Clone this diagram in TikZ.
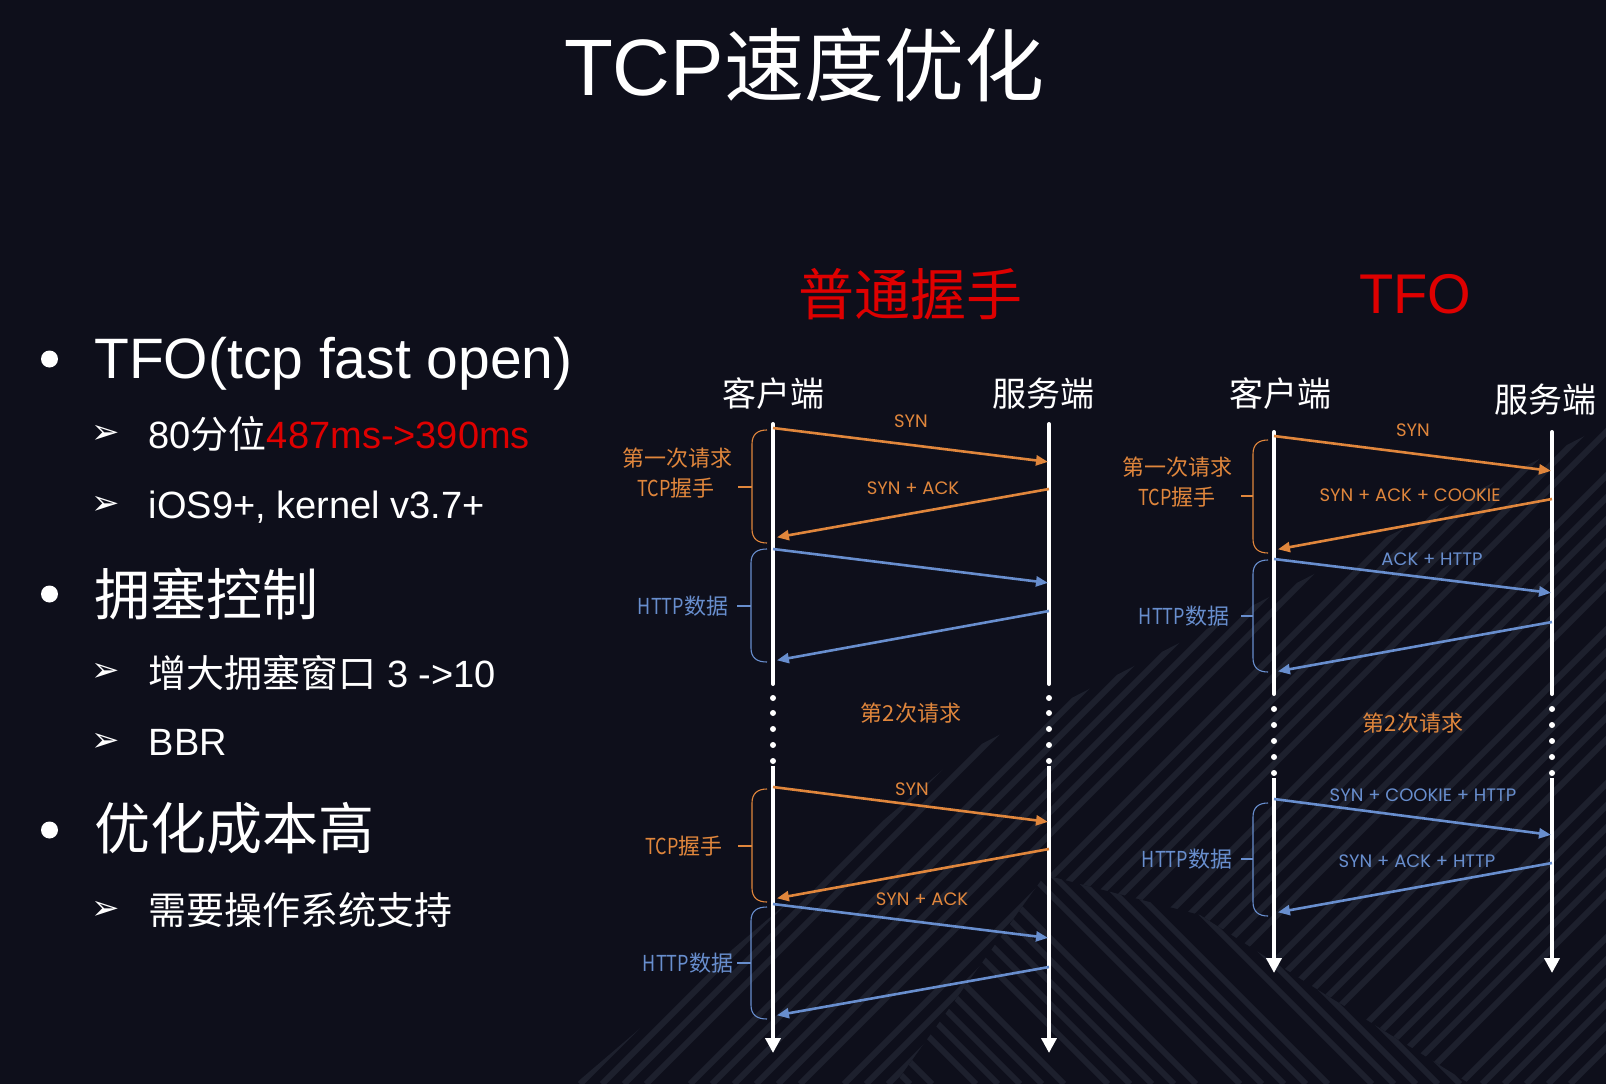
\documentclass[tikz,border=0pt]{standalone}
\usepackage{fontspec}
\setmainfont{Liberation Sans}
\newfontfamily\cjk{Noto Sans CJK SC}
\newfontfamily\cjkc[FakeStretch=0.82]{Noto Sans CJK SC}
\newfontfamily\geo{Poppins}
\newfontfamily\dv{DejaVu Sans}
\usetikzlibrary{arrows.meta}
\definecolor{bgcol}{RGB}{14,15,27}
\definecolor{stripecol}{RGB}{29,32,45}
\definecolor{org}{RGB}{224,134,60}
\definecolor{blu}{RGB}{104,142,206}
\definecolor{ttred}{RGB}{222,0,0}
\newcommand{\mybrk}[7]{%
  \draw[#1, brk] (#3,#4) .. controls (#2+6,#4) and (#2,#4+4) .. (#2,#4+14) -- (#2,#5-14) .. controls (#2,#5-4) and (#2+6,#5) .. (#3,#5);
  \draw[#1, brk] (#7,#6) -- (#2,#6);
}
\begin{document}
\begin{tikzpicture}[x=1pt,y=-1pt,
  txt/.style={inner sep=0pt, text=white},
  life/.style={white, line width=4pt, line cap=round},
  lifearr/.style={white, line width=4pt, -{Triangle[length=15pt,width=15pt]}},
  dotc/.style={circle, fill=white, inner sep=0pt, minimum size=6pt},
  omsg/.style={org, line width=2.6pt, -{Triangle[length=12pt,width=10pt]}},
  bmsg/.style={blu, line width=2.6pt, -{Triangle[length=12pt,width=10pt]}},
  fwd/.style={shorten >=1pt},
  back/.style={shorten >=4pt},
  olab/.style={inner sep=0pt, text=org, font=\geo\fontsize{18}{18}\selectfont},
  blab/.style={inner sep=0pt, text=blu, font=\geo\fontsize{18}{18}\selectfont},
  ocjk/.style={inner sep=0pt, text=org, font=\cjk\fontsize{22}{22}\selectfont},
  bcjk/.style={inner sep=0pt, text=blu, font=\cjk\fontsize{22}{22}\selectfont},
  brk/.style={line width=1.1pt},
  stripe/.style={line width=6pt, draw=stripecol},
  head/.style={inner sep=0pt, text=white, font=\cjk\fontsize{34}{34}\selectfont},
  bul/.style={circle, fill=white, inner sep=0pt, minimum size=17pt},
  sub/.style={inner sep=0pt, text=white, font=\dv\fontsize{34}{34}\selectfont}
]
\useasboundingbox (0,0) rectangle (1606,1084);
\fill[bgcol] (0,0) rectangle (1606,1084);

% background stripes
\begin{scope}
  \clip (575,1084) -- (960,755) -- (1606,425) -- (1606,1084) -- cycle;
  \foreach \i in {0,...,50} {
    \pgfmathtruncatemacro{\m}{mod(\i,7)}
    \ifnum\m<6
      \pgfmathsetmacro{\c}{1620+22*\i}
      \draw[stripe] (\c-1084,1084) -- (\c-400,400);
    \fi
  }
\end{scope}
\begin{scope}
  \clip (895,1084) -- (1045,875) -- (1200,915) -- (1310,985) -- (1470,1084) -- cycle;
  \fill[bgcol] (880,860) rectangle (1500,1084);
  \foreach \i in {0,...,40} {
    \pgfmathtruncatemacro{\m}{mod(\i,6)}
    \ifnum\m<5
      \pgfmathsetmacro{\c}{-240+22*\i}
      \draw[stripe] (\c+860,860) -- (\c+1084,1084);
    \fi
  }
\end{scope}

% title
\node[txt, anchor=base, font=\fontsize{80}{80}\selectfont] (title) at (804,95) {TCP{\cjk 速度优化}};

% left bullets
\node[bul] (b1) at (49.5,359) {};
\node[bul] (b2) at (49.5,594) {};
\node[bul] (b3) at (49.5,830) {};
\node[txt, anchor=base west, font=\fontsize{57}{57}\selectfont] (t1) at (94,378) {TFO(tcp fast open)};
\node[txt, anchor=base west, font=\cjk\fontsize{56}{56}\selectfont] (t2) at (94,615) {拥塞控制};
\node[txt, anchor=base west, font=\cjk\fontsize{56}{56}\selectfont] (t3) at (94,849) {优化成本高};

\node[sub] (s1) at (106,434) {➢};
\node[sub] (s2) at (106,505) {➢};
\node[sub] (s3) at (106,672) {➢};
\node[sub] (s4) at (106,742) {➢};
\node[sub] (s5) at (106,910) {➢};
\node[txt, anchor=base west, font=\fontsize{38}{38}\selectfont] (t1a) at (148.5,448) {80{\cjk 分位}\textcolor{ttred}{487ms->390ms}};
\node[txt, anchor=base west, font=\fontsize{38}{38}\selectfont] (t1b) at (148.5,518) {iOS9+, kernel v3.7+};
\node[txt, anchor=base west, font=\fontsize{38}{38}\selectfont] (t2a) at (148.5,687) {{\cjk 增大拥塞窗口} 3 ->10};
\node[txt, anchor=base west, font=\fontsize{38}{38}\selectfont] (t2b) at (148.5,755) {BBR};
\node[txt, anchor=base west, font=\cjk\fontsize{38}{38}\selectfont] (t3a) at (148.5,924) {需要操作系统支持};

% section titles
\node[inner sep=0pt, text=ttred, font=\cjk\fontsize{56}{56}\selectfont] (h1) at (910,294) {普通握手};
\node[inner sep=0pt, text=ttred, font=\fontsize{56}{56}\selectfont] (h2) at (1415,294) {TFO};

% ===== left diagram =====
\node[head] (cl1) at (773,394) {客户端};
\node[head] (sv1) at (1043,394) {服务端};

\coordinate (L1a) at (773,424); \coordinate (L1b) at (773,684);
\coordinate (L1c) at (773,766); \coordinate (L1d) at (773,1053);
\coordinate (L2a) at (1049,424); \coordinate (L2b) at (1049,684);
\coordinate (L2c) at (1049,766); \coordinate (L2d) at (1049,1053);
\draw[life] (L1a) -- (L1b);
\draw[life] (L2a) -- (L2b);
\draw[lifearr] (L1c) -- (L1d);
\draw[lifearr] (L2c) -- (L2d);
\foreach \y in {698,713,729,745,761} {
  \node[dotc] (dl1-\y) at (773,\y) {};
  \node[dotc] (dl2-\y) at (1049,\y) {};
}

\coordinate (p1s) at (773,428); \coordinate (p1e) at (1049,462);
\coordinate (p2s) at (1049,489); \coordinate (p2e) at (773,538);
\coordinate (p3s) at (773,549); \coordinate (p3e) at (1049,583);
\coordinate (p4s) at (1049,611); \coordinate (p4e) at (773,661);
\draw[omsg, fwd] (p1s) -- (p1e);
\draw[omsg, back] (p2s) -- (p2e);
\draw[bmsg, fwd] (p3s) -- (p3e);
\draw[bmsg, back] (p4s) -- (p4e);
\node[olab] (lsyn1) at (911,421) {SYN};
\node[olab] (lsa1) at (913,488) {SYN + ACK};

\mybrk{org}{752}{767}{430}{543}{487}{738}
\mybrk{blu}{751}{767}{549}{662}{606}{737}
\node[ocjk] (lq1) at (677,458) {第一次请求};
\node[ocjk] (lq2) at (676,488) {{\cjkc TCP}握手};
\node[bcjk] (lh1) at (683,606) {{\cjkc HTTP}数据};

\node[ocjk] (l2nd) at (911,713) {第2次请求};

\coordinate (q1s) at (773,787); \coordinate (q1e) at (1049,822);
\coordinate (q2s) at (1049,849); \coordinate (q2e) at (773,899);
\coordinate (q3s) at (773,904); \coordinate (q3e) at (1049,938);
\coordinate (q4s) at (1049,967); \coordinate (q4e) at (773,1016);
\draw[omsg, fwd] (q1s) -- (q1e);
\draw[omsg, back] (q2s) -- (q2e);
\draw[bmsg, fwd] (q3s) -- (q3e);
\draw[bmsg, back] (q4s) -- (q4e);
\node[olab] (lsyn2) at (912,789) {SYN};
\node[olab] (lsa2) at (922,899) {SYN + ACK};

\mybrk{org}{752}{767}{789}{902}{846}{738}
\mybrk{blu}{751}{767}{907}{1019}{963}{737}
\node[ocjk] (lq3) at (684,846) {{\cjkc TCP}握手};
\node[bcjk] (lh2) at (688,963) {{\cjkc HTTP}数据};

% ===== right diagram =====
\node[head] (cl2) at (1280,394) {客户端};
\node[head] (sv2) at (1545,400) {服务端};

\coordinate (R1a) at (1274,432); \coordinate (R1b) at (1274,694);
\coordinate (R1c) at (1274,778); \coordinate (R1d) at (1274,973);
\coordinate (R2a) at (1552,432); \coordinate (R2b) at (1552,694);
\coordinate (R2c) at (1552,778); \coordinate (R2d) at (1552,973);
\draw[life] (R1a) -- (R1b);
\draw[life] (R2a) -- (R2b);
\draw[lifearr] (R1c) -- (R1d);
\draw[lifearr] (R2c) -- (R2d);
\foreach \y in {709,725,741,757,773} {
  \node[dotc] (dr1-\y) at (1274,\y) {};
  \node[dotc] (dr2-\y) at (1552,\y) {};
}

\coordinate (r1s) at (1274,436); \coordinate (r1e) at (1552,471);
\coordinate (r2s) at (1552,499); \coordinate (r2e) at (1274,550);
\coordinate (r3s) at (1274,559); \coordinate (r3e) at (1552,593);
\coordinate (r4s) at (1552,622); \coordinate (r4e) at (1274,672);
\draw[omsg, fwd] (r1s) -- (r1e);
\draw[omsg, back] (r2s) -- (r2e);
\draw[bmsg, fwd] (r3s) -- (r3e);
\draw[bmsg, back] (r4s) -- (r4e);
\node[olab] (rsyn1) at (1413,430) {SYN};
\node[olab] (rsac) at (1410,495) {SYN + ACK + COOKIE};
\node[blab] (rah) at (1432,559) {ACK + HTTP};

\mybrk{org}{1253}{1268}{440}{553}{496}{1241}
\mybrk{blu}{1253}{1268}{560}{672}{616}{1241}
\node[ocjk] (rq1) at (1177,467) {第一次请求};
\node[ocjk] (rq2) at (1177,497) {{\cjkc TCP}握手};
\node[bcjk] (rh1) at (1184,616) {{\cjkc HTTP}数据};

\node[ocjk] (r2nd) at (1413,723) {第2次请求};

\coordinate (s1s) at (1274,799); \coordinate (s1e) at (1552,835);
\coordinate (s2s) at (1552,863); \coordinate (s2e) at (1274,913);
\draw[bmsg, fwd] (s1s) -- (s1e);
\draw[bmsg, back] (s2s) -- (s2e);
\node[blab] (rsch) at (1423,795) {SYN + COOKIE + HTTP};
\node[blab] (rsah) at (1417,861) {SYN + ACK + HTTP};

\mybrk{blu}{1253}{1268}{803}{916}{859}{1241}
\node[bcjk] (rh2) at (1187,859) {{\cjkc HTTP}数据};
\end{tikzpicture}
\end{document}
